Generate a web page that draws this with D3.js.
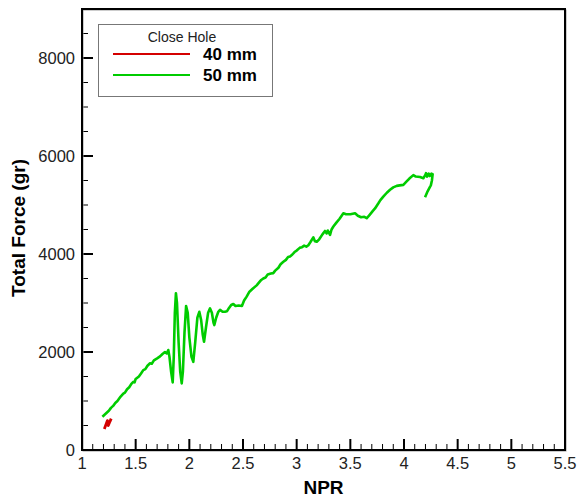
<!DOCTYPE html>
<html>
<head>
<meta charset="utf-8">
<script src="https://cdn.jsdelivr.net/npm/d3@7"></script>
<style>
body { margin:0; background:#fff; }
text { font-family: "Liberation Sans", Arial, sans-serif; }
</style>
</head>
<body>
<div id="chart"></div>
<script>
// 50 mm series (green)
var npr50 = [1.19,1.22,1.25,1.27,1.29,1.31,1.33,1.36,1.385,1.40,1.42,1.44,1.46,1.478,1.49,1.50,1.53,1.55,1.571,1.59,1.61,1.634,1.65,1.67,1.70,1.727,1.75,1.773,1.79,1.804,1.815,1.83,1.845,1.855,1.865,1.875,1.885,1.90,1.915,1.929,1.94,1.955,1.97,1.985,2.00,2.02,2.037,2.055,2.075,2.093,2.11,2.125,2.137,2.155,2.175,2.193,2.21,2.225,2.233,2.25,2.27,2.286,2.31,2.332,2.35,2.37,2.39,2.41,2.43,2.46,2.49,2.51,2.534,2.56,2.59,2.627,2.65,2.67,2.689,2.71,2.73,2.76,2.782,2.80,2.83,2.85,2.876,2.90,2.92,2.938,2.96,2.98,3.00,3.031,3.05,3.07,3.09,3.109,3.13,3.155,3.17,3.187,3.21,3.24,3.264,3.28,3.29,3.311,3.325,3.342,3.37,3.40,3.435,3.46,3.50,3.544,3.57,3.60,3.63,3.653,3.68,3.71,3.73,3.76,3.78,3.807,3.84,3.87,3.90,3.932,3.96,3.994,4.02,4.05,4.087,4.11,4.15,4.18,4.20,4.205,4.215,4.23,4.24,4.255,4.267,4.26,4.25,4.242,4.22,4.196];
var force50 = [680,740,800,860,900,960,1000,1090,1150,1170,1240,1280,1350,1390,1380,1450,1500,1560,1630,1650,1720,1770,1760,1830,1870,1910,1960,2000,1970,2040,1900,1600,1380,1900,2800,3200,3000,2200,1600,1360,1600,2400,2940,2800,2300,1900,1800,2200,2700,2820,2650,2350,2210,2500,2800,2890,2800,2600,2550,2700,2820,2860,2820,2820,2830,2900,2960,2980,2940,2950,2940,3050,3130,3230,3290,3360,3420,3470,3500,3520,3580,3600,3610,3660,3720,3790,3840,3880,3940,3950,3990,4040,4070,4130,4140,4170,4150,4180,4250,4340,4260,4250,4300,4400,4470,4420,4480,4390,4500,4560,4640,4720,4830,4810,4810,4830,4780,4750,4760,4730,4800,4880,4930,5030,5100,5170,5250,5310,5360,5390,5400,5410,5470,5540,5610,5580,5570,5545,5620,5650,5580,5640,5590,5640,5630,5500,5400,5370,5280,5160];

// 40 mm series (red)
var npr40 = [1.208,1.22,1.237,1.245,1.26,1.272];
var force40 = [430,500,600,500,580,640];

var xTicks = [1,1.5,2,2.5,3,3.5,4,4.5,5,5.5];
var yTicks = [0,2000,4000,6000,8000];
var seriesNames = ["40 mm","50 mm"];
var seriesColors = ["#d40000","#00cc00"];

var W = 578, H = 499;
var mLeft = 82, mRight = 565, mTop = 9, mBottom = 450;

var svg = d3.select("#chart").append("svg").attr("width",W).attr("height",H);

var x = d3.scaleLinear().domain([1,5.5]).range([mLeft,mRight]);
var y = d3.scaleLinear().domain([0,9000]).range([mBottom,mTop]);

// minor ticks
var xMinor = d3.range(0,46).map(function(i){ return 1+i*0.1; });
var yMinor = d3.range(0,19).map(function(i){ return i*500; });
var isMajorX = function(i){ return i%5==0; };

svg.append("g").selectAll("line").data(xMinor).enter().append("line")
	.attr("x1",function(d){ return x(d); }).attr("x2",function(d){ return x(d); })
	.attr("y1",mBottom).attr("y2",function(d,i){ return isMajorX(i) ? mBottom-11 : mBottom-6; })
	.attr("stroke","#000").attr("stroke-width",function(d,i){ return isMajorX(i) ? 2 : 1; });

svg.append("g").selectAll("line").data(yMinor).enter().append("line")
	.attr("y1",function(d){ return y(d); }).attr("y2",function(d){ return y(d); })
	.attr("x1",mLeft).attr("x2",function(d){ return d%2000==0 ? mLeft+11 : mLeft+6; })
	.attr("stroke","#000").attr("stroke-width",function(d){ return d%2000==0 ? 2 : 1; });

// tick labels
svg.append("g").selectAll("text").data(xTicks).enter().append("text")
	.attr("x",function(d){ return x(d); }).attr("y",mBottom+19)
	.attr("text-anchor","middle").attr("font-size",16.5).attr("fill","#222")
	.text(function(d){ return d; });

svg.append("g").selectAll("text").data(yTicks).enter().append("text")
	.attr("x",mLeft-7).attr("y",function(d){ return y(d)+6; })
	.attr("text-anchor","end").attr("font-size",16.5).attr("fill","#222")
	.text(function(d){ return d; });

// lines
var line = d3.line().x(function(d){ return x(d[0]); }).y(function(d){ return y(d[1]); });

svg.append("path").datum(d3.zip(npr40,force40))
	.attr("d",line).attr("fill","none").attr("stroke",seriesColors[0]).attr("stroke-width",2.8).attr("stroke-linejoin","round");
svg.append("path").datum(d3.zip(npr50,force50))
	.attr("d",line).attr("fill","none").attr("stroke",seriesColors[1]).attr("stroke-width",2.6).attr("stroke-linejoin","round");

// frame
svg.append("rect").attr("x",mLeft+1).attr("y",mTop+1).attr("width",mRight-mLeft).attr("height",mBottom-mTop)
	.attr("fill","none").attr("stroke","#999").attr("stroke-width",1);
svg.append("rect").attr("x",mLeft).attr("y",mTop).attr("width",mRight-mLeft).attr("height",mBottom-mTop)
	.attr("fill","none").attr("stroke","#000").attr("stroke-width",2);

// axis titles
svg.append("text").attr("x",(mLeft+mRight)/2).attr("y",494)
	.attr("text-anchor","middle").attr("font-size",19).attr("font-weight","bold").text("NPR");
svg.append("text").attr("transform","translate(25,228) rotate(-90)")
	.attr("text-anchor","middle").attr("font-size",19).attr("font-weight","bold").text("Total Force (gr)");

// legend
var lg = svg.append("g");
lg.append("rect").attr("x",98.5).attr("y",24.5).attr("width",174).attr("height",72)
	.attr("fill","#fff").attr("stroke","#777").attr("stroke-width",1);
lg.append("text").attr("x",182).attr("y",42).attr("text-anchor","middle").attr("font-size",14).attr("fill","#222").text("Close Hole");
seriesNames.forEach(function(name,i){
	var ly = 54 + i*21;
	lg.append("line").attr("x1",113).attr("x2",190).attr("y1",ly).attr("y2",ly)
		.attr("stroke",seriesColors[i]).attr("stroke-width",2);
	lg.append("text").attr("x",203).attr("y",ly+6).attr("font-size",17).attr("font-weight","bold").text(name);
});
</script>
</body>
</html>
